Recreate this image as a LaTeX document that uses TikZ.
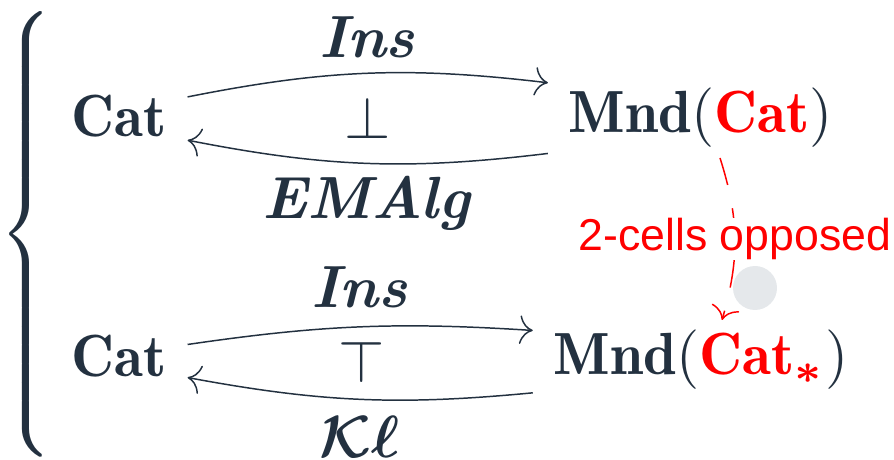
\documentclass[tikz,border=0pt]{standalone}
\usepackage{amsmath}
\usepackage{amssymb}
\usepackage{xcolor}
\usepackage{fontspec}
\usepackage{tikz}
\usetikzlibrary{arrows.meta}
\newfontfamily\notefont{Liberation Sans}
\definecolor{ink}{HTML}{233140}
\definecolor{dotgray}{HTML}{E5E8EB}
\newcommand{\catbf}{\mathbf{Cat}}
\newcommand{\fname}[1]{\textbf{\textit{#1}}}

\begin{document}
\begin{tikzpicture}[x=0.168pt, y=-0.168pt, color=ink,
    obj/.style={anchor=base},
    adj/.style={-{To[length=2.2pt,width=4.8pt]}, line width=0.25pt}]
    \useasboundingbox (0,0) rectangle (894,460);

    % The brace grouping both adjunctions
    \node[inner sep=0pt, yscale=1.04] (brace) at (30,234) {$\left\{\rule[-34.3pt]{0pt}{73.6pt}\right.$};

    % Top row: Eilenberg-Moore
    \node[obj] (cat1) at (119,137) {$\catbf$};
    \node[obj] (mnd1) at (701,133) {$\mathbf{Mnd}(\textcolor{red}{\catbf})$};
    \draw[adj] (cat1.16) to[bend left=9] node[midway, above=-0.8pt] (ins1) {\fname{Ins}} (mnd1.167);
    \draw[adj] (mnd1.193) to[bend left=9] node[midway, below=-1.3pt] (emalg) {\fname{EMAlg}} (cat1.341);
    \node (adj1) at (368,118) {$\bot$};

    % Bottom row: Kleisli
    \node[obj] (cat2) at (119,377) {$\catbf$};
    \node[obj] (mnd2) at (701,375) {$\mathbf{Mnd}(\textcolor{red}{\catbf_{\boldsymbol{*}}})$};
    \draw[adj] (cat2.10) to[bend left=6] node[midway, above=-0.2pt] (ins2) {\fname{Ins}} (mnd2.170);
    \draw[adj] (mnd2.191) to[bend left=8] node[midway, below=-0.7pt] (kl) {$\boldsymbol{\mathcal{K}\ell}$} (cat2.343);
    \node (adj2) at (362,362) {$\top$};

    % Red note between the two monad categories
    \coordinate (from) at (720,158);
    \coordinate (to) at (722,320);
    \draw[adj, red, dash pattern=on 4.7pt off 4pt] (from) to[bend left=17]
        node[midway, fill=white, inner sep=0pt, font=\notefont\fontsize{7.5}{9}\selectfont] (note) {2-cells opposed} (to);

    \fill[dotgray] (755,288) circle (22);
\end{tikzpicture}
\end{document}
